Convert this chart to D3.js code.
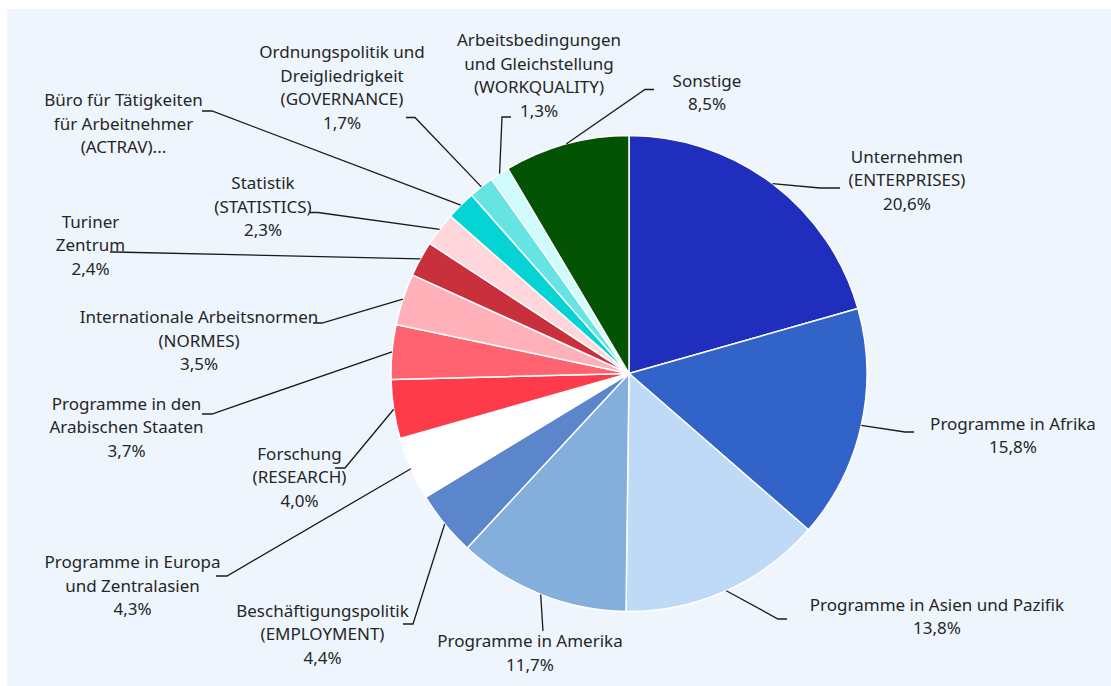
<!DOCTYPE html>
<html>
<head>
<meta charset="utf-8">
<script src="https://cdn.jsdelivr.net/npm/d3@7"></script>
<style>
  html, body { margin: 0; padding: 0; background: #fff; }
  .sliceLabel { font-family: "Noto Sans", sans-serif; font-size: 17px; fill: #262626; }
  .leader { fill: none; stroke: #1a1a1a; stroke-width: 1.3; }
</style>
</head>
<body>
<svg id="chart"></svg>
<script>
/*** data ***/
const categories = [
  "Unternehmen\n(ENTERPRISES)",
  "Programme in Afrika",
  "Programme in Asien und Pazifik",
  "Programme in Amerika",
  "Beschäftigungspolitik\n(EMPLOYMENT)",
  "Programme in Europa\nund Zentralasien",
  "Forschung\n(RESEARCH)",
  "Programme in den\nArabischen Staaten",
  "Internationale Arbeitsnormen\n(NORMES)",
  "Turiner\nZentrum",
  "Statistik\n(STATISTICS)",
  "Büro für Tätigkeiten\nfür Arbeitnehmer\n(ACTRAV)...",
  "Ordnungspolitik und\nDreigliedrigkeit\n(GOVERNANCE)",
  "Arbeitsbedingungen\nund Gleichstellung\n(WORKQUALITY)",
  "Sonstige"
];
const values = [20.6, 15.8, 13.8, 11.7, 4.4, 4.3, 4.0, 3.7, 3.5, 2.4, 2.3, 2.0, 1.7, 1.3, 8.5];
// ACTRAV label is truncated in the original, so no percentage is shown
const showPct = [true, true, true, true, true, true, true, true, true, true, true, false, true, true, true];
const colors = ["#202ebd", "#3163c8", "#bedaf6", "#84aedc", "#5b86cb", "#ffffff", "#fd3b4b",
                "#fe636f", "#ffb0b8", "#c8303c", "#ffd6dc", "#06d3d3", "#66e3e3", "#cffbfb", "#045304"];

/*** layout ***/
const W = 1111, H = 686;
const cx = 629, cy = 373.5, R = 238;
const lineH = 23.5;

// label placement (elbow of leader, end of leader, text centre, first line middle)
const labelPos = [
  { ex: 820, ey: 188, lx: 840, tx: 907, ty: 157 },
  { ex: 905, ey: 432, lx: 914, tx: 1013, ty: 424 },
  { ex: 778, ey: 619, lx: 787, tx: 937, ty: 605 },
  { ex: 543, ey: 631, lx: 543, tx: 530, ty: 641.5 },
  { ex: 413, ey: 624, lx: 403, tx: 322.5, ty: 611 },
  { ex: 227, ey: 576, lx: 216, tx: 132.5, ty: 562.5 },
  { ex: 345, ey: 468, lx: 335, tx: 299.5, ty: 454 },
  { ex: 212, ey: 414, lx: 202, tx: 126.5, ty: 404 },
  { ex: 322, ey: 323, lx: 313, tx: 199, ty: 317.5 },
  { ex: 114, ey: 252, lx: 110, tx: 90.5, ty: 222 },
  { ex: 318, ey: 212.5, lx: 310, tx: 263, ty: 183.5 },
  { ex: 212, ey: 111, lx: 202, tx: 123.5, ty: 100.5 },
  { ex: 415, ey: 117.5, lx: 406, tx: 342, ty: 52.5 },
  { ex: 502, ey: 117, lx: 511, tx: 539, ty: 40.5 },
  { ex: 645, ey: 89.5, lx: 654, tx: 707, ty: 81 }
];

const svg = d3.select("#chart").attr("width", W).attr("height", H);

svg.append("rect")
  .attr("x", 7).attr("y", 9)
  .attr("width", W - 7).attr("height", H - 9)
  .attr("fill", "#eef5fc");

const slices = categories.map((c, i) => ({ name: c, value: values[i], color: colors[i], pct: showPct[i], pos: labelPos[i] }));

const pie = d3.pie().sort(null).value(d => d.value);
const arc = d3.arc().innerRadius(0).outerRadius(R);
const arcs = pie(slices);

const g = svg.append("g").attr("transform", `translate(${cx},${cy})`);
g.selectAll("path.slice")
  .data(arcs)
  .enter().append("path")
    .attr("class", "slice")
    .attr("d", arc)
    .attr("fill", d => d.data.color)
    .attr("stroke", "#ffffff")
    .attr("stroke-width", 1.5)
    .attr("stroke-linejoin", "round");

const fmt = v => d3.format(".1f")(v).replace(".", ",") + "%";

// leader lines
svg.append("g").selectAll("polyline")
  .data(arcs)
  .enter().append("polyline")
    .attr("class", "leader")
    .attr("points", d => {
      const a = (d.startAngle + d.endAngle) / 2;
      const sx = cx + R * Math.sin(a), sy = cy - R * Math.cos(a);
      const p = d.data.pos;
      return [[sx, sy], [p.ex, p.ey], [p.lx, p.ey]].map(q => q.join(",")).join(" ");
    });

// labels
const lab = svg.append("g").selectAll("text.sliceLabel")
  .data(arcs)
  .enter().append("text")
    .attr("class", "sliceLabel")
    .attr("text-anchor", "middle");
lab.each(function(d) {
  const lines = d.data.name.split("\n");
  if (d.data.pct) lines.push(fmt(d.data.value));
  const t = d3.select(this);
  lines.forEach((ln, k) => {
    t.append("tspan")
      .attr("x", d.data.pos.tx)
      .attr("y", d.data.pos.ty + k * lineH)
      .attr("dy", "0.35em")
      .text(ln);
  });
});
</script>
</body>
</html>
